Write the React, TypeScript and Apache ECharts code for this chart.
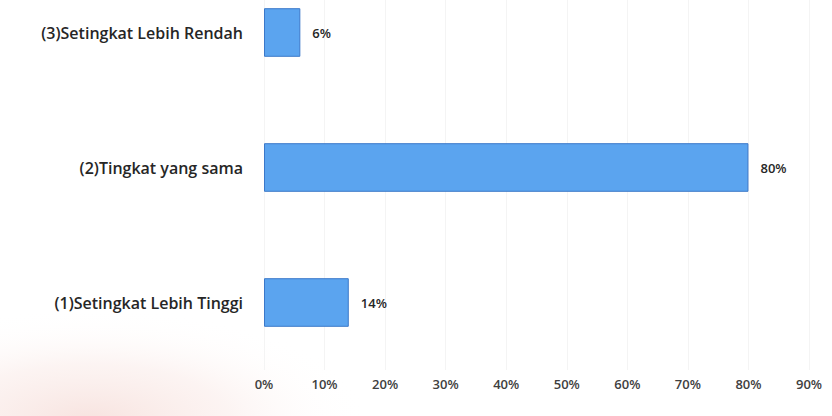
import React, { useEffect, useRef } from "react";
import * as echarts from "echarts";

const categories = [
  "(1)Setingkat Lebih Tinggi",
  "(2)Tingkat yang sama",
  "(3)Setingkat Lebih Rendah",
];
const values = [14, 80, 6];
const axisMin = 0;
const axisMax = 90;
const axisStep = 10;

const SHIFT = 40;

export default function App() {
  const ref = useRef<HTMLDivElement>(null);
  useEffect(() => {
    document.body.style.margin = "0";
    const chart = echarts.init(ref.current!, null, { renderer: "svg" });
    chart.setOption({
      animation: false,
      backgroundColor: "#ffffff",
      graphic: [
        {
          type: "circle",
          z: -10,
          silent: true,
          x: 90,
          y: 420 + SHIFT,
          scaleY: 0.4,
          shape: { cx: 0, cy: 0, r: 280 },
          style: {
            fill: new echarts.graphic.RadialGradient(0.5, 0.5, 0.5, [
              { offset: 0, color: "rgba(236,186,176,0.4)" },
              { offset: 0.5, color: "rgba(242,205,198,0.22)" },
              { offset: 0.8, color: "rgba(250,230,226,0.06)" },
              { offset: 1, color: "rgba(255,255,255,0)" },
            ]),
          },
        },
      ],
      grid: { left: 264, right: 23, top: SHIFT - 35, bottom: 46 },
      xAxis: {
        type: "value",
        min: axisMin,
        max: axisMax,
        interval: axisStep,
        axisLine: { show: false },
        axisTick: { show: false },
        splitLine: { show: true, lineStyle: { color: "#f4f4f4", width: 1 } },
        axisLabel: {
          formatter: "{value}%",
          fontFamily: "Open Sans",
          fontSize: 13,
          fontWeight: 600,
          color: "#404040",
          margin: 7,
        },
      },
      yAxis: {
        type: "category",
        data: categories,
        axisLine: { show: false },
        axisTick: { show: false },
        axisLabel: {
          fontFamily: "Open Sans",
          fontSize: 16,
          fontWeight: 600,
          color: "#262626",
          margin: 21,
        },
      },
      series: [
        {
          type: "bar",
          data: values,
          barWidth: "36%",
          itemStyle: {
            color: "#5ba4ef",
            borderColor: "#3b78c9",
            borderWidth: 1,
          },
          label: {
            show: true,
            position: "right",
            distance: 12,
            formatter: "{c}%",
            fontFamily: "Open Sans",
            fontSize: 13,
            fontWeight: 600,
            color: "#262626",
          },
        },
      ],
    });
    return () => chart.dispose();
  }, []);
  return (
    <div
      ref={ref}
      style={{
        position: "absolute",
        left: 0,
        top: -SHIFT,
        width: 832,
        height: 416 + SHIFT,
      }}
    />
  );
}
